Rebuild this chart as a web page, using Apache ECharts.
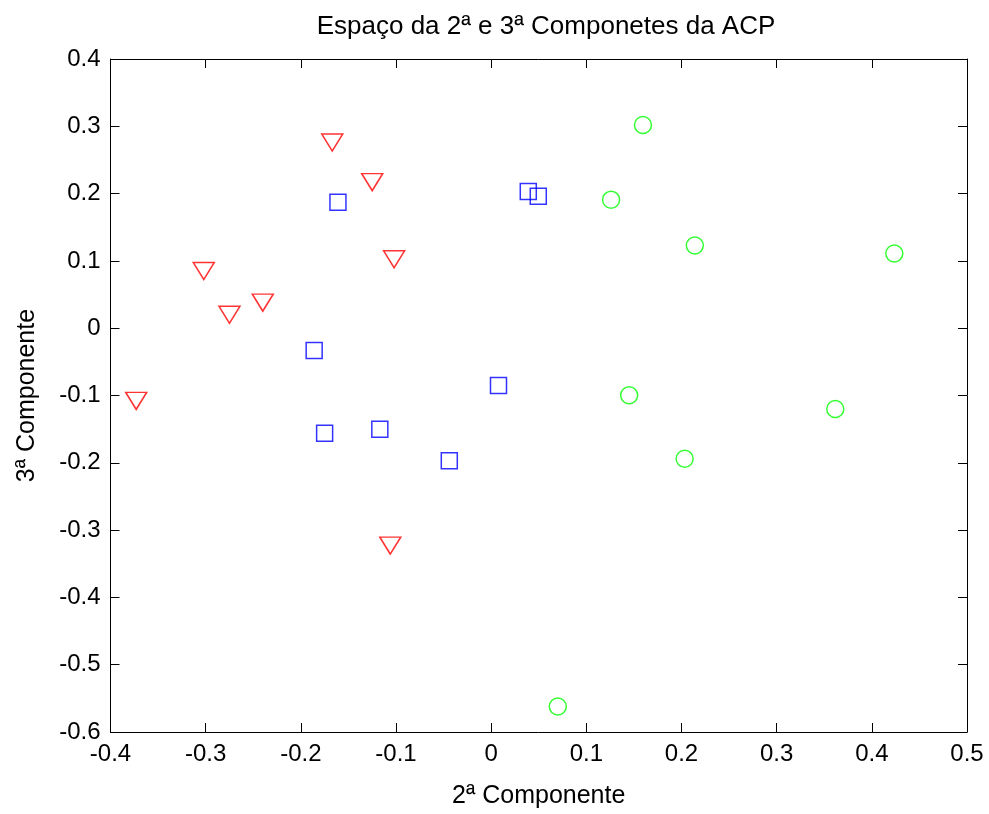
<!DOCTYPE html>
<html>
<head>
<meta charset="utf-8">
<script src="https://cdn.jsdelivr.net/npm/echarts@6/dist/echarts.min.js"></script>
<style>
html,body{margin:0;padding:0;background:#fff;}
#chart{width:989px;height:814px;}
</style>
</head>
<body>
<div id="chart"></div>
<script>
// Group 1 (red, downward triangles)
const triX = [-0.167, -0.125, -0.102, -0.302, -0.275, -0.240, -0.373, -0.106];
const triY = [0.276, 0.217, 0.1025, 0.085, 0.020, 0.038, -0.108, -0.323];
// Group 2 (blue, squares)
const sqX = [-0.161, 0.039, 0.0495, -0.186, -0.175, -0.117, -0.044, 0.0077];
const sqY = [0.187, 0.203, 0.196, -0.033, -0.156, -0.150, -0.197, -0.085];
// Group 3 (green, circles)
const ciX = [0.1595, 0.126, 0.214, 0.4236, 0.145, 0.3616, 0.2033, 0.070];
const ciY = [0.302, 0.191, 0.123, 0.111, -0.0996, -0.120, -0.194, -0.562];

const xTicks = [-0.4, -0.3, -0.2, -0.1, 0, 0.1, 0.2, 0.3, 0.4, 0.5];
const yTicks = [-0.6, -0.5, -0.4, -0.3, -0.2, -0.1, 0, 0.1, 0.2, 0.3, 0.4];

const titleText = 'Espaço da 2ª e 3ª Componetes da ACP';
const xName = '2ª Componente';
const yName = '3ª Componente';

function pairs(xs, ys) { return xs.map((x, i) => [x, ys[i]]); }
function fmt(v) {
  const r = Math.round(v * 10) / 10;
  return r === 0 ? '0' : String(r);
}

const FONT = 'Liberation Sans, Arial, sans-serif';
const tickFont = 24;

const chart = echarts.init(document.getElementById('chart'), null, { renderer: 'canvas' });

const baseX = {
  type: 'value', min: xTicks[0], max: xTicks[xTicks.length - 1], interval: 0.1,
  axisLine: { show: true, onZero: false, lineStyle: { color: '#000', width: 1 } },
  axisTick: { show: true, inside: true, length: 9, lineStyle: { color: '#000', width: 1 } },
  splitLine: { show: false }
};
const baseY = {
  type: 'value', min: yTicks[0], max: yTicks[yTicks.length - 1], interval: 0.1,
  axisLine: { show: true, onZero: false, lineStyle: { color: '#000', width: 1 } },
  axisTick: { show: true, inside: true, length: 9, lineStyle: { color: '#000', width: 1 } },
  splitLine: { show: false }
};

chart.setOption({
  backgroundColor: '#fff',
  animation: false,
  title: {
    text: titleText, left: 541, top: 9, textAlign: 'center',
    textStyle: { fontFamily: FONT, fontSize: 26, fontWeight: 'normal', color: '#000' }
  },
  grid: { left: 110.5, right: 22, top: 59, bottom: 79, containLabel: false },
  xAxis: [
    Object.assign({}, baseX, {
      position: 'bottom',
      name: xName, nameLocation: 'middle', nameGap: 52,
      nameTextStyle: { fontFamily: FONT, fontSize: 25, color: '#000' },
      axisLabel: { show: true, margin: 10, color: '#000', fontFamily: FONT, fontSize: tickFont, formatter: fmt }
    }),
    Object.assign({}, baseX, { position: 'top', axisLabel: { show: false } })
  ],
  yAxis: [
    Object.assign({}, baseY, {
      position: 'left',
      name: yName, nameLocation: 'middle', nameGap: 71, nameRotate: 90,
      nameTextStyle: { fontFamily: FONT, fontSize: 25, color: '#000', padding: [0, 0, 0, 0] },
      axisLabel: { show: true, margin: 10, color: '#000', fontFamily: FONT, fontSize: tickFont, formatter: fmt }
    }),
    Object.assign({}, baseY, { position: 'right', axisLabel: { show: false } })
  ],
  series: [
    {
      type: 'scatter', xAxisIndex: 0, yAxisIndex: 0,
      data: pairs(triX, triY),
      symbol: 'triangle', symbolRotate: 180, symbolSize: [21, 17],
      itemStyle: { color: 'rgba(0,0,0,0)', borderColor: '#ff0000', borderWidth: 1.5 }
    },
    {
      type: 'scatter', xAxisIndex: 0, yAxisIndex: 0,
      data: pairs(sqX, sqY),
      symbol: 'rect', symbolSize: 16,
      itemStyle: { color: 'rgba(0,0,0,0)', borderColor: '#0000ff', borderWidth: 1.5 }
    },
    {
      type: 'scatter', xAxisIndex: 0, yAxisIndex: 0,
      data: pairs(ciX, ciY),
      symbol: 'circle', symbolSize: 17,
      itemStyle: { color: 'rgba(0,0,0,0)', borderColor: '#00ff00', borderWidth: 1.5 }
    }
  ]
});
</script>
</body>
</html>
